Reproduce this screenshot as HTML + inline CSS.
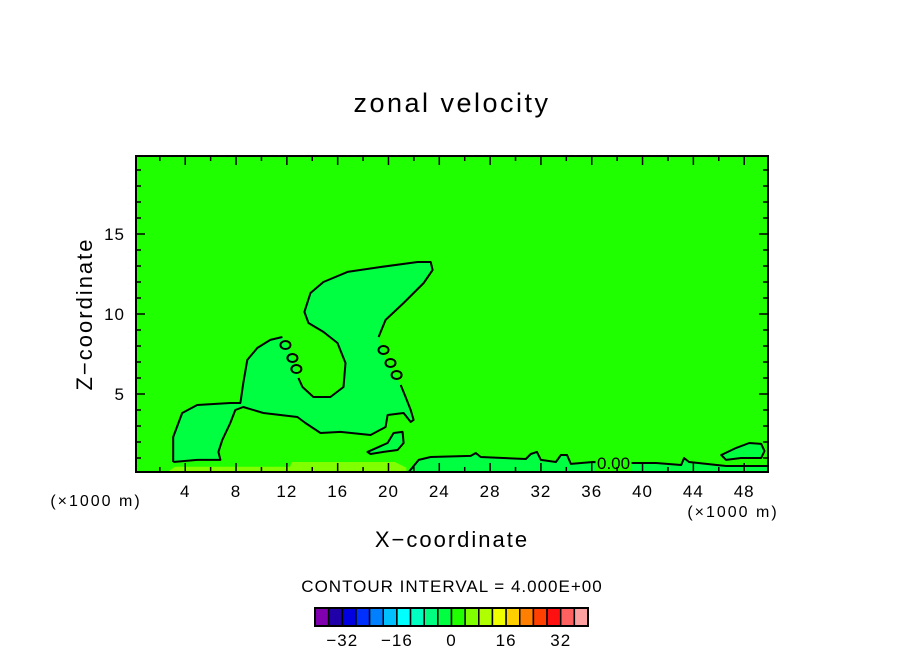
<!DOCTYPE html>
<html><head><meta charset="utf-8"><style>
html,body{margin:0;padding:0;background:#fff;}
svg{display:block;font-family:"Liberation Sans",sans-serif;}
</style></head><body>
<svg id="chart" width="904" height="654" viewBox="0 0 904 654" xmlns="http://www.w3.org/2000/svg">
<text x="452" y="112" text-anchor="middle" font-size="27" fill="#000" letter-spacing="2.5">zonal velocity</text>
<g id="plot"></g>
<g id="axes"></g>
<text transform="translate(92,314) rotate(-90)" text-anchor="middle" font-size="22" fill="#000" letter-spacing="2">Z−coordinate</text>
<text x="452" y="547" text-anchor="middle" font-size="22" fill="#000" letter-spacing="2">X−coordinate</text>
<text x="96" y="506" text-anchor="middle" font-size="16" fill="#000" letter-spacing="2">(×1000 m)</text>
<text x="733" y="517" text-anchor="middle" font-size="16" fill="#000" letter-spacing="2">(×1000 m)</text>
<text x="452" y="592" text-anchor="middle" font-size="17" fill="#000" letter-spacing="1">CONTOUR INTERVAL = 4.000E+00</text>
<g id="cbar"></g>
</svg>
<script>
const xTicks=[4,8,12,16,20,24,28,32,36,40,44,48];
const zTicks=[5,10,15];
const levels=[-40,-36,-32,-28,-24,-20,-16,-12,-8,-4,0,4,8,12,16,20,24,28,32,36,40];
const cbarLabels=[-32,-16,0,16,32];
const bandColors=["#8000b0","#2000a8","#0000e0","#0030ff","#0080ff","#00c0ff","#00ffff","#00ffc0","#00ff80","#00ff40","#20ff00","#80ff00","#b0ff00","#f0ff00","#ffd000","#ff8000","#ff4000","#ff1010","#ff6060","#ffa0a0"];
const mainX=[3.05,3.05,3.76,4.94,7.55,8.34,8.57,8.89,9.68,10.70,11.65,12.28,12.91,13.23,14.09,15.43,16.46,16.62,15.99,14.88,13.70,13.38,13.86,14.88,16.77,19.38,22.3,23.32,23.47,22.77,21.19,19.77,19.22,19.77,20.96,21.35,21.75,21.98,21.75,21.19,19.93,19.77,18.59,16.22,14.65,13.46,12.83,10.15,8.57,7.94,7.55,6.92,6.61,6.77,4.94];
const mainZ=[0.75,2.31,3.81,4.31,4.44,4.44,5.69,7.13,7.88,8.38,8.56,7.63,6.0,5.44,4.81,4.81,5.44,6.94,8.19,8.88,9.44,10.13,11.31,12.0,12.63,12.94,13.25,13.25,12.75,11.94,10.69,9.63,8.56,7.13,5.56,4.81,4.0,3.38,3.25,3.81,3.69,2.94,2.44,2.63,2.56,3.19,3.56,3.81,4.19,4.0,3.19,2.13,1.38,0.88,0.88];
const islX=[18.35,19.93,20.4,21.11,21.19,20.72,19.61,18.59];
const islZ=[1.38,1.94,2.56,2.63,1.94,1.5,1.38,1.25];
const stripX=[21.6,22.38,23.32,26.47,26.87,27.26,30.81,31.2,31.68,32.0,33.18,33.57,34.05,34.36,36.1,39.26,41.07,43.04,43.27,43.66,46.58,49.875,49.875];
const stripZ=[0.125,0.88,1.06,1.13,1.31,1.06,0.94,1.25,1.38,0.88,0.75,1.19,1.19,0.63,0.75,0.69,0.69,0.56,1.0,0.75,0.5,0.5,0.125];
const rIslX=[46.2,47.37,48.4,49.34,49.6,49.34,47.76,46.58];
const rIslZ=[1.19,1.63,1.94,1.88,1.44,1.0,1.0,0.88];
const warmAX=[2.6,3.2,12.3,12.3,2.6];
const warmAZ=[0.125,0.45,0.45,0.125,0.125];
const warmBX=[12.1,12.4,20.5,21.4,21.4,12.1];
const warmBZ=[0.125,0.75,0.75,0.4,0.125,0.125];
const ovalX=[11.89,12.44,12.75,19.61,20.16,20.64];
const ovalZ=[8.06,7.25,6.56,7.75,6.94,6.19];
const X0=0.125,X1=49.875,Z0=0.125,Z1=19.875;
const L=136,R=768,T=156,B=472;
const sx=v=>L+(v-X0)/(X1-X0)*(R-L);
const sz=v=>B-(v-Z0)/(Z1-Z0)*(B-T);
const NS="http://www.w3.org/2000/svg";
function mk(tag,attrs,parent){const e=document.createElementNS(NS,tag);for(const k in attrs)e.setAttribute(k,attrs[k]);parent.appendChild(e);return e;}
const plot=document.getElementById('plot'),axes=document.getElementById('axes'),cbar=document.getElementById('cbar');
let bg=mk('rect',{x:L,y:T,width:R-L,height:B-T,fill:bandColors[10]},plot);


function ptsOf(xs,zs){return xs.map((x,i)=>sx(x).toFixed(1)+','+sz(zs[i]).toFixed(1)).join(' ');}
function poly(xs,zs,fill,name,stroke){
  const p=mk('polygon',{points:ptsOf(xs,zs),fill:fill,stroke:stroke?'#000':'none','stroke-width':2,'stroke-linejoin':'round'},plot);
  
  
}
function line(xs,zs,name){
  const p=mk('polyline',{points:ptsOf(xs,zs),fill:'none',stroke:'#000','stroke-width':2,'stroke-linejoin':'round'},plot);
  
  
}
poly(mainX,mainZ,bandColors[9],'negative-region-main',false);
line(mainX.slice(0,11),mainZ.slice(0,11),'zero-contour-segment');
line(mainX.slice(12,33),mainZ.slice(12,33),'zero-contour-segment');
line(mainX.slice(34).concat([mainX[0]]),mainZ.slice(34).concat([mainZ[0]]),'zero-contour-segment');
poly(islX,islZ,bandColors[9],'negative-island',true);
poly(stripX,stripZ,bandColors[9],'negative-bottom-strip',true);
poly(rIslX,rIslZ,bandColors[9],'negative-right-island',true);
poly(warmAX,warmAZ,bandColors[11],'positive-strip-a',false);
poly(warmBX,warmBZ,bandColors[11],'positive-strip-b',false);
ovalX.forEach((x,i)=>{
  const o=mk('ellipse',{cx:sx(x),cy:sz(ovalZ[i]),rx:5,ry:4,fill:'none',stroke:'#000','stroke-width':2},plot);
  
  
});
let lt=mk('rect',{x:sx(36.3),y:sz(0.9)-4,width:36,height:16,fill:bandColors[10]},plot);


let lab=mk('text',{x:sx(36.3)+18,y:sz(0.55)+4,'text-anchor':'middle','font-size':17,fill:'#000'},plot);
lab.textContent='0.00';


let fr=mk('rect',{x:L,y:T,width:R-L,height:B-T,fill:'none',stroke:'#000','stroke-width':2},axes);


for(let v=2;v<=48;v+=2){
  const major=xTicks.includes(v);const len=major?9:5;const x=sx(v);
  mk('line',{x1:x,x2:x,y1:B,y2:B-len,stroke:'#000','stroke-width':1.5},axes);
  mk('line',{x1:x,x2:x,y1:T,y2:T+len,stroke:'#000','stroke-width':1.5},axes);
}
for(let v=1;v<=19;v++){
  const major=zTicks.includes(v);const len=major?9:5;const y=sz(v);
  mk('line',{x1:L,x2:L+len,y1:y,y2:y,stroke:'#000','stroke-width':1.5},axes);
  mk('line',{x1:R,x2:R-len,y1:y,y2:y,stroke:'#000','stroke-width':1.5},axes);
}
xTicks.forEach(v=>{
  const t=mk('text',{x:sx(v),y:497,'text-anchor':'middle','font-size':17,fill:'#000','letter-spacing':1},axes);
  t.textContent=v;
  
  
});
zTicks.forEach(v=>{
  const t=mk('text',{x:125,y:sz(v)+6,'text-anchor':'end','font-size':17,fill:'#000','letter-spacing':1},axes);
  t.textContent=v;
  
  
});
const CB0=315,CB1=588,CT=608,CH=18;
const bw=(CB1-CB0)/bandColors.length;
const cx=v=>CB0+(v-levels[0])/(levels[levels.length-1]-levels[0])*(CB1-CB0);
bandColors.forEach((c,i)=>{
  const r=mk('rect',{x:cx(levels[i]),y:CT,width:bw,height:CH,fill:c,stroke:'#000','stroke-width':1.5},cbar);
  
  
});
mk('rect',{x:CB0,y:CT,width:CB1-CB0,height:CH,fill:'none',stroke:'#000','stroke-width':2},cbar);
cbarLabels.forEach(v=>{
  const t=mk('text',{x:cx(v),y:646,'text-anchor':'middle','font-size':17,fill:'#000','letter-spacing':1},cbar);
  t.textContent=v<0?'−'+Math.abs(v):String(v);
  
  
});
</script>
</body></html>
